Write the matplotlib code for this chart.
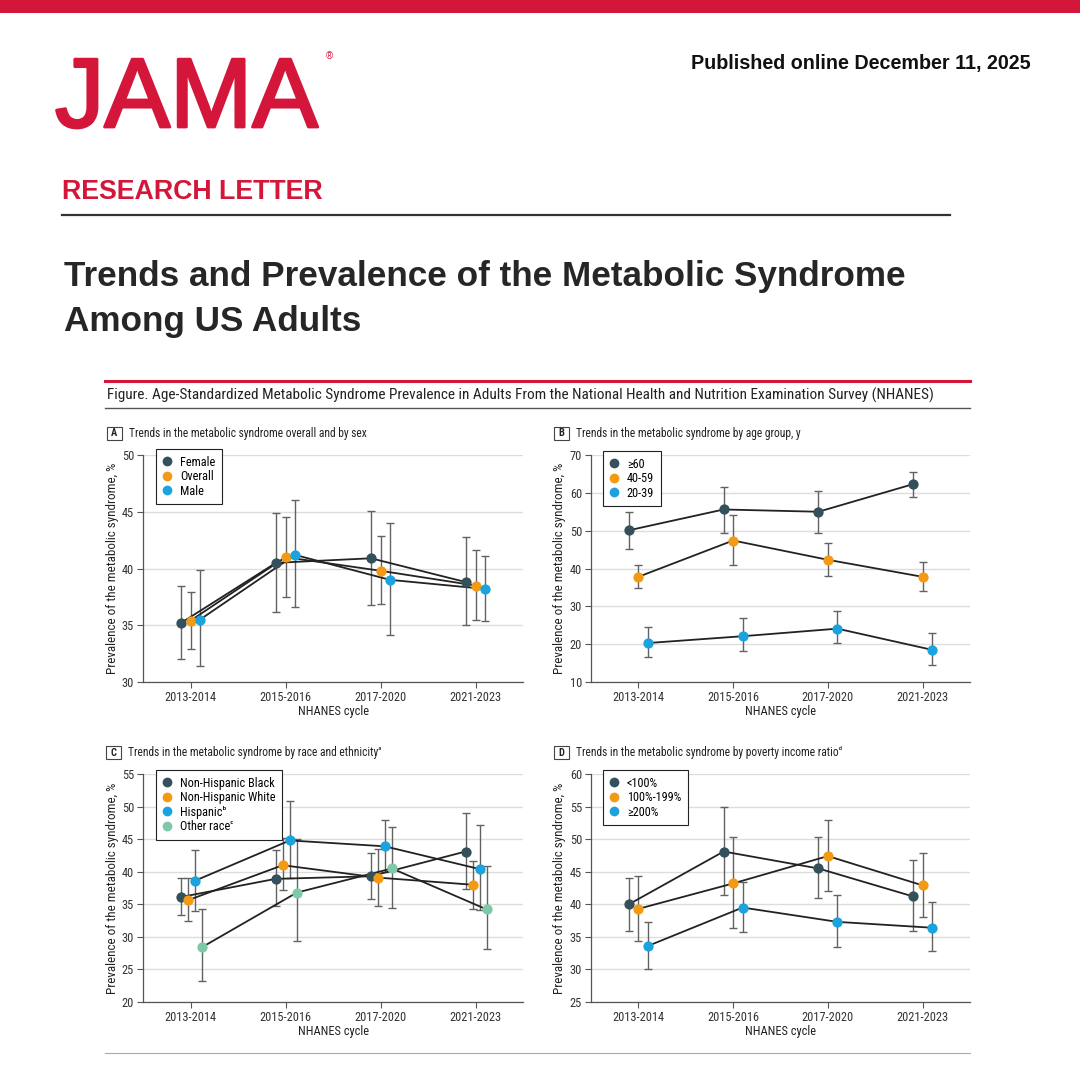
import matplotlib
matplotlib.use("Agg")
import matplotlib.pyplot as plt
import matplotlib.patheffects as pe
from matplotlib.patches import Rectangle
import numpy as np

BODY = ['Roboto Condensed', 'Fira Sans Condensed', 'PT Sans Narrow', 'Barlow Semi Condensed',
        'Lato', 'DejaVu Sans']
plt.rcParams['font.family'] = BODY

cycles = ['2013-2014', '2015-2016', '2017-2020', '2021-2023']

# panel A: overall and by sex
sex_groups = ['Female', 'Overall', 'Male']
sex_est = [[35.2, 40.5, 40.9, 38.8], [35.4, 41.0, 39.8, 38.5], [35.5, 41.2, 39.0, 38.2]]
sex_lo = [[32.0, 36.2, 36.8, 35.0], [32.9, 37.5, 36.9, 35.5], [31.4, 36.6, 34.1, 35.4]]
sex_hi = [[38.5, 44.9, 45.1, 42.8], [37.9, 44.5, 42.9, 41.6], [39.9, 46.0, 44.0, 41.1]]

# panel B: age group
age_groups = ['≥60', '40-59', '20-39']
age_est = [[50.1, 55.6, 55.0, 62.3], [37.8, 47.4, 42.3, 37.8], [20.3, 22.1, 24.1, 18.5]]
age_lo = [[45.2, 49.4, 49.5, 58.9], [34.8, 40.8, 38.0, 34.0], [16.5, 18.1, 20.2, 14.6]]
age_hi = [[55.0, 61.6, 60.5, 65.6], [41.0, 54.2, 46.8, 41.8], [24.6, 26.8, 28.8, 23.0]]

# panel C: race and ethnicity
race_groups = ['Non-Hispanic Black', 'Non-Hispanic White', 'Hispanicᵇ', 'Other raceᶜ']
race_est = [[36.1, 38.9, 39.3, 43.1], [35.6, 41.0, 39.1, 38.0],
            [38.6, 44.8, 43.9, 40.4], [28.4, 36.8, 40.5, 34.2]]
race_lo = [[33.3, 34.7, 35.8, 37.4], [32.5, 37.2, 34.8, 34.3],
           [34.0, 39.0, 39.9, 34.1], [23.3, 29.4, 34.5, 28.1]]
race_hi = [[39.1, 43.4, 42.8, 49.0], [39.0, 45.1, 43.5, 41.6],
           [43.4, 50.9, 48.0, 47.2], [34.2, 45.0, 46.8, 40.9]]

# panel D: poverty income ratio
pir_groups = ['<100%', '100%-199%', '≥200%']
pir_est = [[40.0, 48.1, 45.5, 41.2], [39.3, 43.2, 47.4, 42.9], [33.6, 39.5, 37.3, 36.4]]
pir_lo = [[35.9, 41.4, 40.9, 35.9], [34.4, 36.4, 42.1, 38.1], [30.1, 35.8, 33.5, 32.8]]
pir_hi = [[44.1, 55.0, 50.3, 46.8], [44.4, 50.3, 52.9, 47.9], [37.3, 43.4, 41.4, 40.3]]

colors = ['#34505c', '#f39a14', '#1ca3de', '#7ec9a9']
RED = '#d3163a'
W = H = 1080

fig = plt.figure(figsize=(10.8, 10.8), dpi=100)
bg = fig.add_axes([0, 0, 1, 1], zorder=0)
bg.set_xlim(0, W)
bg.set_ylim(H, 0)
bg.axis('off')

# header
bg.add_patch(Rectangle((0, 0), W, 13, color=RED, lw=0))
bg.text(55, 127, 'JAMA', color=RED, fontsize=71, family='Liberation Sans', va='baseline', ha='left',
        path_effects=[pe.withStroke(linewidth=2, foreground=RED)])
bg.text(329, 56, '®', color=RED, fontsize=7, family='Liberation Sans', va='center', ha='center')
bg.text(1031, 63, 'Published online December 11, 2025', fontsize=14.2, fontweight='bold',
        family='Liberation Sans', color='#111111', ha='right', va='center')
bg.text(62, 199, 'RESEARCH LETTER', color=RED, fontsize=19.3, fontweight='bold',
        family='Liberation Sans', va='baseline')
bg.plot([62, 950], [215, 215], color='#333333', lw=1.6)
bg.text(64, 286, 'Trends and Prevalence of the Metabolic Syndrome', fontsize=25.3, fontweight='bold',
        family='Liberation Sans', color='#262626', va='baseline')
bg.text(64, 331, 'Among US Adults', fontsize=25.3, fontweight='bold',
        family='Liberation Sans', color='#262626', va='baseline')

bg.plot([105, 970], [381, 381], color=RED, lw=2.2)
bg.text(107, 395, 'Figure. Age-Standardized Metabolic Syndrome Prevalence in Adults From the National '
        'Health and Nutrition Examination Survey (NHANES)', fontsize=11, color='#222222', va='center')
bg.plot([105, 970], [408, 408], color='#555555', lw=1.0)
bg.plot([105, 970], [1053, 1053], color='#aaaaaa', lw=0.8)


def to_fig(left, top, right, bottom):
    return [left / W, 1 - bottom / H, (right - left) / W, (bottom - top) / H]


def draw_panel(box, letter, title, groups, est, lo, hi, ylim, ystep, legend_xy, ylab_x, box_x):
    left, top, right, bottom = box
    ax = fig.add_axes(to_fig(left, top, right, bottom), zorder=2)
    ax.set_facecolor('none')
    n = len(groups)
    if n == 3:
        offsets = (np.arange(n) - 1) * 0.1
    else:
        offsets = (np.arange(n) - 1.4) * 0.075
    x = np.arange(len(cycles))
    for i, g in enumerate(groups):
        xi = x + offsets[i]
        e = np.array(est[i])
        yerr = [e - np.array(lo[i]), np.array(hi[i]) - e]
        ax.errorbar(xi, e, yerr=yerr, fmt='none', ecolor='#626262', elinewidth=1.0,
                    capsize=2.6, capthick=1.0, zorder=2)
        ax.plot(xi, e, color='#222222', lw=1.3, zorder=3)
        ax.plot(xi, e, 'o', ms=7.4, color=colors[i], mec='none', zorder=4, label=g)

    ax.set_xlim(-0.5, 3.5)
    ax.set_ylim(*ylim)
    ax.set_xticks(x)
    ax.set_xticklabels(cycles)
    ax.set_yticks(np.arange(ylim[0], ylim[1] + 0.1, ystep))
    ax.yaxis.grid(True, color='#dddddd', lw=1.0)
    ax.set_axisbelow(True)
    for s in ['top', 'right']:
        ax.spines[s].set_visible(False)
    for s in ['left', 'bottom']:
        ax.spines[s].set_color('#555555')
        ax.spines[s].set_linewidth(0.9)
    ax.tick_params(length=4, width=0.8, color='#555555', labelsize=8.9, labelcolor='#333333', pad=2.5)

    ax.set_xlabel('NHANES cycle', fontsize=8.9, color='#222222')
    ax.xaxis.set_label_coords((left + right) / 2, bottom + 23, transform=bg.transData)
    ax.set_ylabel('Prevalence of the metabolic syndrome, %', fontsize=9.4, color='#222222')
    ax.yaxis.set_label_coords(ylab_x + 6, (top + bottom) / 2, transform=bg.transData)

    leg = ax.legend(loc='upper left', bbox_to_anchor=(legend_xy[0] / W, 1 - legend_xy[1] / H),
                    bbox_transform=fig.transFigure, borderaxespad=0, fancybox=False,
                    edgecolor='#222222', framealpha=1, fontsize=8.8, handlelength=0.7,
                    handletextpad=0.7, labelspacing=0.12, borderpad=0.55, markerscale=0.95)
    leg.get_frame().set_linewidth(0.8)

    # panel letter and title
    bg.add_patch(Rectangle((box_x, top - 28), 15, 13, fill=False, ec='#444444', lw=0.8))
    bg.text(box_x + 7.5, top - 21.5, letter, fontsize=7.5, fontweight='bold', ha='center', va='center',
            color='#222222')
    bg.text(box_x + 22, top - 21.5, title, fontsize=8.3, ha='left', va='center', color='#222222')
    return ax


draw_panel((143, 455, 523, 682), 'A', 'Trends in the metabolic syndrome overall and by sex',
           sex_groups, sex_est, sex_lo, sex_hi, (30, 50), 5, (156, 449), 113, 107)
draw_panel((591, 455, 970, 682), 'B', 'Trends in the metabolic syndrome by age group, y',
           age_groups, age_est, age_lo, age_hi, (10, 70), 10, (603, 451), 560, 554)
draw_panel((143, 774, 523, 1002), 'C', 'Trends in the metabolic syndrome by race and ethnicityᵃ',
           race_groups, race_est, race_lo, race_hi, (20, 55), 5, (156, 770), 113, 106)
draw_panel((591, 774, 970, 1002), 'D', 'Trends in the metabolic syndrome by poverty income ratioᵈ',
           pir_groups, pir_est, pir_lo, pir_hi, (25, 60), 5, (603, 770), 560, 554)

fig.savefig('out.png', dpi=100, facecolor='white')
